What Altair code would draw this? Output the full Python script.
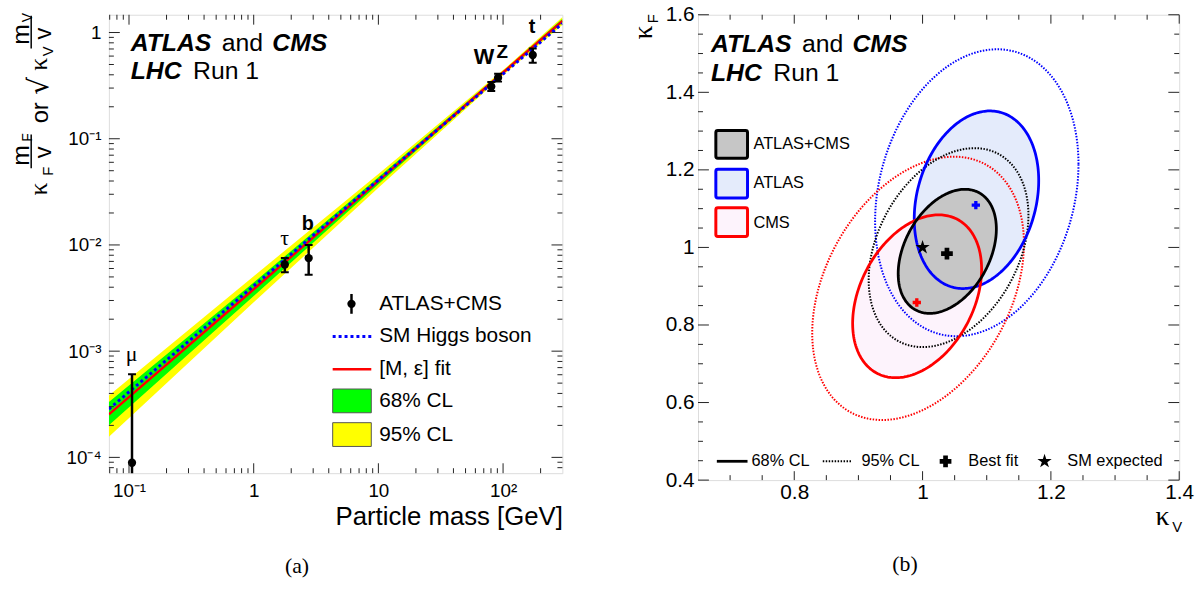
import altair as alt
import numpy as np
import pandas as pd

# ---------------- panel (a): values ----------------
particle = ["μ", "τ", "b", "W", "Z", "t"]
mass = [0.1057, 1.777, 2.76, 80.4, 91.2, 173.0]
coupling = [8.9e-5, 6.55e-3, 7.52e-3, 0.31, 0.376, 0.615]
coupling_lo = [1e-6, 5.52e-3, 5.24e-3, 0.282, 0.345, 0.52]
coupling_hi = [6.06e-4, 7.52e-3, 1.0e-2, 0.342, 0.41, 0.708]

label_x = [0.105, 1.77, 2.71, 70.5, 98.6, 171.0]
label_y = [9.4e-4, 0.0115, 0.0156, 0.583, 0.655, 1.12]

band_mass = [0.069, 1.0, 10.0, 100.0, 300.0]
fit_value = [2.54e-4, 3.83e-3, 0.0401, 0.42, 1.288]
cl68_lo = [2.01e-4, 3.31e-3, 0.0372, 0.408, 1.233]
cl68_hi = [3.33e-4, 4.43e-3, 0.0433, 0.431, 1.346]
cl95_lo = [1.56e-4, 2.88e-3, 0.0345, 0.397, 1.183]
cl95_hi = [3.82e-4, 5.08e-3, 0.0466, 0.443, 1.403]

sm_mass = [0.069, 300.0]
sm_value = [2.85e-4, 1.22]

# ---------------- panel (b): contour parameters ----------------
ell_name = ["comb68", "comb95", "atlas68", "atlas95", "cms68", "cms95"]
ell_cx = [1.0385, 1.0405, 1.084, 1.0845, 0.9915, 0.993]
ell_cy = [0.99, 0.9995, 1.123, 1.141, 0.874, 0.8945]
ell_rx = [0.0765, 0.1245, 0.097, 0.1585, 0.1005, 0.165]
ell_ry = [0.16, 0.2565, 0.229, 0.37, 0.21, 0.3395]
ell_cos = [0.36, 0.325, 0.216, 0.2, 0.333, 0.34]

bestfit_kv = [1.038, 1.083, 0.991]
bestfit_kf = [0.984, 1.109, 0.858]
bestfit_who = ["comb", "atlas", "cms"]
sm_kv = [1.0]
sm_kf = [1.0]

# ---------------- helpers ----------------
SANS = "Liberation Sans"
SERIF = "Liberation Serif"
one = pd.DataFrame({"d": [0]})


def ptext(text, x, y, size, font=SANS, weight="normal", style="normal",
          align="center", baseline="middle", angle=0, color="black"):
    return alt.Chart(one).mark_text(
        text=text, font=font, fontSize=size, fontWeight=weight, fontStyle=style,
        align=align, baseline=baseline, angle=angle, color=color
    ).encode(x=alt.value(x), y=alt.value(y))


def prule(x1, y1, x2, y2, color="black", width=1.0, dash=None):
    kw = dict(color=color, strokeWidth=width)
    if dash is not None:
        kw["strokeDash"] = dash
    return alt.Chart(one).mark_rule(**kw).encode(
        x=alt.value(x1), y=alt.value(y1), x2=alt.value(x2), y2=alt.value(y2))


def prect(x1, y1, x2, y2, fill, stroke, width=1.0, radius=0):
    return alt.Chart(one).mark_rect(fill=fill, stroke=stroke, strokeWidth=width,
                                    cornerRadius=radius).encode(
        x=alt.value(x1), y=alt.value(y1), x2=alt.value(x2), y2=alt.value(y2))


def header(x0, base1, base2):
    return [
        ptext("ATLAS", x0, base1, 25, weight="bold", style="italic", align="left", baseline="alphabetic"),
        ptext("and", x0 + 92, base1, 25, align="left", baseline="alphabetic"),
        ptext("CMS", x0 + 143, base1, 25, weight="bold", style="italic", align="left", baseline="alphabetic"),
        ptext("LHC", x0, base2, 25, weight="bold", style="italic", align="left", baseline="alphabetic"),
        ptext("Run 1", x0 + 63, base2, 25, align="left", baseline="alphabetic"),
    ]


def tick_layers(xenc, yenc, xfield, yfield, xmaj, xmin, ymaj, ymin, W, H,
                lx_maj, lx_min, ly_maj, ly_min):
    layers = []
    for vals, L in ((ymaj, ly_maj), (ymin, ly_min)):
        d = pd.DataFrame({yfield: vals})
        layers.append(alt.Chart(d).mark_rule(color="#222", strokeWidth=1).encode(
            y=yenc, x=alt.value(0), x2=alt.value(L)))
        layers.append(alt.Chart(d).mark_rule(color="#222", strokeWidth=1).encode(
            y=yenc, x=alt.value(W - L), x2=alt.value(W)))
    for vals, L in ((xmaj, lx_maj), (xmin, lx_min)):
        d = pd.DataFrame({xfield: vals})
        layers.append(alt.Chart(d).mark_rule(color="#222", strokeWidth=1).encode(
            x=xenc, y=alt.value(H - L), y2=alt.value(H)))
        layers.append(alt.Chart(d).mark_rule(color="#222", strokeWidth=1).encode(
            x=xenc, y=alt.value(0), y2=alt.value(L)))
    return layers


# =====================================================================
# Panel (a)
# =====================================================================
WA, HA = 458, 463
xdomA = [0.069, 299]
ydomA = [7.1e-5, 1.47]

axis_xa = alt.Axis(
    values=[0.1, 1, 10, 100],
    labelExpr="datum.value < 0.5 ? '10⁻¹' : datum.value < 5 ? '1' : datum.value < 50 ? '10' : '10²'",
    ticks=False, domain=False, grid=False, labelFontSize=19, labelPadding=9,
    labelFont=SANS, labelColor="black", labelFlush=False, labelOverlap=False,
    title="Particle mass [GeV]", titleFont=SANS, titleFontSize=26, titleFontWeight="normal",
    titleAnchor="end", titlePadding=3, titleColor="black")
axis_ya = alt.Axis(
    values=[1e-4, 1e-3, 1e-2, 1e-1, 1],
    labelExpr=("datum.value > 0.5 ? '1' : datum.value > 0.05 ? '10⁻¹' : "
               "datum.value > 0.005 ? '10⁻²' : datum.value > 0.0005 ? '10⁻³' : '10⁻⁴'"),
    ticks=False, domain=False, grid=False, labelFontSize=19, labelPadding=8,
    labelFont=SANS, labelColor="black", labelFlush=False, labelOverlap=False, title=None)

xA = alt.X("m:Q", scale=alt.Scale(type="log", domain=xdomA, nice=False), axis=axis_xa)
yA = alt.Y("v:Q", scale=alt.Scale(type="log", domain=ydomA, nice=False), axis=axis_ya)
y2A = alt.Y2("v2:Q")

band95 = pd.DataFrame({"m": band_mass, "v": cl95_lo, "v2": cl95_hi})
band68 = pd.DataFrame({"m": band_mass, "v": cl68_lo, "v2": cl68_hi})
fit_df = pd.DataFrame({"m": band_mass, "v": fit_value})
sm_df = pd.DataFrame({"m": sm_mass, "v": sm_value})
pts = pd.DataFrame({"m": mass, "v": coupling, "name": particle})
err_df = pd.DataFrame({"m": mass, "v": coupling_lo, "v2": coupling_hi})
caps = pd.DataFrame({"m": mass + mass, "v": coupling_lo + coupling_hi})
labs = pd.DataFrame({"m": label_x, "v": label_y, "name": particle})

layersA = [
    alt.Chart(band95).mark_area(color="#ffff00", opacity=1, clip=True).encode(x=xA, y=yA, y2=y2A),
    alt.Chart(band68).mark_area(color="#00ff00", opacity=1, clip=True).encode(x=xA, y=yA, y2=y2A),
    alt.Chart(fit_df).mark_line(color="#ff0000", strokeWidth=2.5, clip=True).encode(x=xA, y=yA),
    alt.Chart(sm_df).mark_line(color="#0000ff", strokeWidth=3, strokeDash=[3, 3], clip=True).encode(x=xA, y=yA),
    alt.Chart(err_df).mark_rule(color="black", strokeWidth=2.5, clip=True).encode(x=xA, y=yA, y2=y2A),
    alt.Chart(caps).mark_point(shape="stroke", size=64, strokeWidth=2, color="black", opacity=1, clip=True).encode(x=xA, y=yA),
    alt.Chart(pts).mark_circle(size=70, color="black", opacity=1, clip=True).encode(x=xA, y=yA),
    alt.Chart(labs[labs.name.isin(["μ", "τ"])]).mark_text(font=SERIF, fontSize=22, color="black").encode(
        x=xA, y=yA, text="name:N"),
    alt.Chart(labs[labs.name.isin(["b", "t"])]).mark_text(font=SANS, fontSize=20, fontWeight="bold", color="black").encode(
        x=xA, y=yA, text="name:N"),
    alt.Chart(labs[labs.name == "W"]).mark_text(font=SANS, fontSize=22, fontWeight="bold", color="black").encode(
        x=xA, y=yA, text="name:N"),
    alt.Chart(labs[labs.name == "Z"]).mark_text(font=SANS, fontSize=19, fontWeight="bold", color="black").encode(
        x=xA, y=yA, text="name:N"),
]

xmajA = [0.1, 1, 10, 100]
xminA = [k * 10.0 ** e for e in range(-2, 3) for k in range(2, 10) if xdomA[0] < k * 10.0 ** e < xdomA[1]]
ymajA = [1e-4, 1e-3, 1e-2, 1e-1, 1]
yminA = [k * 10.0 ** e for e in range(-5, 1) for k in range(2, 10) if ydomA[0] < k * 10.0 ** e < ydomA[1]]
layersA += tick_layers(xA, yA, "m", "v", xmajA, xminA, ymajA, yminA, WA, HA, 10, 5, 11, 5)

# header text
layersA += header(22, 37, 65)

# legend of panel (a)
layersA += [
    prule(245, 282, 245, 302, width=2.5),
    alt.Chart(one).mark_circle(size=70, color="black", opacity=1).encode(x=alt.value(245), y=alt.value(292)),
    ptext("ATLAS+CMS", 273, 292, 21, align="left"),
    prule(226, 325, 265, 325, color="#0000ff", width=3, dash=[3, 3]),
    ptext("SM Higgs boson", 273, 325, 21, align="left"),
    prule(226, 358, 265, 358, color="#ff0000", width=2.5),
    ptext("[M, ε] fit", 273, 358, 21, align="left"),
    prect(226, 378, 265, 402, "#00ff00", "#555", 1),
    ptext("68% CL", 273, 390, 21, align="left"),
    prect(226, 412, 265, 436, "#ffff00", "#555", 1),
    ptext("95% CL", 273, 424, 21, align="left"),
]

# y-axis title of panel (a), composed piece by piece (rotated)
R = 270
layersA += [
    ptext("κ", -71, 176, 26, font=SERIF, angle=R),
    ptext("F", -61, 158, 15, angle=R),
    ptext("m", -89, 142, 25, angle=R),
    ptext("F", -82, 124, 14, angle=R),
    prule(-78.5, 121, -78.5, 155, width=1.5),
    ptext("v", -65, 139, 24, angle=R),
    ptext("or", -69, 99, 24, angle=R),
    ptext("√", -70, 72, 28, font="DejaVu Sans", angle=R),
    ptext("κ", -71, 50, 26, font=SERIF, angle=R),
    ptext("V", -61, 37, 15, angle=R),
    ptext("m", -89, 20, 25, angle=R),
    ptext("V", -82, 3, 14, angle=R),
    prule(-78.5, 1, -78.5, 34, width=1.5),
    ptext("v", -65, 19, 24, angle=R),
    ptext("(a)", 190, 557, 22, font=SERIF),
]

panelA = alt.layer(*layersA).properties(width=WA, height=HA)

# =====================================================================
# Panel (b)
# =====================================================================
WB, HB = 486, 470
xdomB = [0.65, 1.4]
ydomB = [0.4, 1.6]

axis_xb = alt.Axis(
    values=[0.8, 1.0, 1.2, 1.4],
    labelExpr="datum.value == 1 ? '1' : format(datum.value, '.1f')",
    ticks=False, domain=False, grid=False, labelFontSize=21, labelPadding=2,
    labelFont=SANS, labelColor="black", labelFlush=False, labelOverlap=False, title=None)
axis_yb = alt.Axis(
    values=[0.4, 0.6, 0.8, 1.0, 1.2, 1.4, 1.6],
    labelExpr="datum.value == 1 ? '1' : format(datum.value, '.1f')",
    ticks=False, domain=False, grid=False, labelFontSize=21, labelPadding=4,
    labelFont=SANS, labelColor="black", labelFlush=False, labelOverlap=False, title=None)

xB = alt.X("kv:Q", scale=alt.Scale(domain=xdomB, nice=False, zero=False), axis=axis_xb)
yB = alt.Y("kf:Q", scale=alt.Scale(domain=ydomB, nice=False, zero=False), axis=axis_yb)

tt = np.linspace(0, 2 * np.pi, 241)
rows = []
for n, cx, cy, rx, ry, c in zip(ell_name, ell_cx, ell_cy, ell_rx, ell_ry, ell_cos):
    phi = np.arccos(c)
    for i, t in enumerate(tt):
        rows.append({"name": n, "i": i, "kv": cx + rx * np.cos(t), "kf": cy + ry * np.cos(t - phi)})
ell = pd.DataFrame(rows)


def contour(name):
    return ell[ell.name == name]


ordB = alt.Order("i:Q")
layersB = [
    alt.Chart(contour("atlas68")).mark_line(fill="#e4ebfb", stroke="#e4ebfb", strokeWidth=0.5).encode(x=xB, y=yB, order=ordB),
    alt.Chart(contour("cms68")).mark_line(fill="#fdf3fc", stroke="#fdf3fc", strokeWidth=0.5).encode(x=xB, y=yB, order=ordB),
    alt.Chart(contour("comb68")).mark_line(fill="#c6c6c6", stroke="#c6c6c6", strokeWidth=0.5).encode(x=xB, y=yB, order=ordB),
    alt.Chart(contour("atlas95")).mark_line(color="#0000ff", strokeWidth=2, strokeDash=[1.5, 1.5]).encode(x=xB, y=yB, order=ordB),
    alt.Chart(contour("cms95")).mark_line(color="#ff0000", strokeWidth=2, strokeDash=[1.5, 1.5]).encode(x=xB, y=yB, order=ordB),
    alt.Chart(contour("comb95")).mark_line(color="black", strokeWidth=2, strokeDash=[1.5, 1.5]).encode(x=xB, y=yB, order=ordB),
    alt.Chart(contour("atlas68")).mark_line(color="#0000ff", strokeWidth=2.8).encode(x=xB, y=yB, order=ordB),
    alt.Chart(contour("cms68")).mark_line(color="#ff0000", strokeWidth=2.8).encode(x=xB, y=yB, order=ordB),
    alt.Chart(contour("comb68")).mark_line(color="black", strokeWidth=2.8).encode(x=xB, y=yB, order=ordB),
]

bf = pd.DataFrame({"kv": bestfit_kv, "kf": bestfit_kf, "who": bestfit_who})
STAR = "M0,-1L0.2245,-0.309L0.951,-0.309L0.363,0.118L0.588,0.809L0,0.382L-0.588,0.809L-0.363,0.118L-0.951,-0.309L-0.2245,-0.309Z"
layersB += [
    alt.Chart(bf[bf.who == "atlas"]).mark_point(shape="cross", filled=True, size=70, color="#0000ff", opacity=1).encode(x=xB, y=yB),
    alt.Chart(bf[bf.who == "cms"]).mark_point(shape="cross", filled=True, size=70, color="#ff0000", opacity=1).encode(x=xB, y=yB),
    alt.Chart(bf[bf.who == "comb"]).mark_point(shape="cross", filled=True, size=140, color="black", opacity=1).encode(x=xB, y=yB),
    alt.Chart(pd.DataFrame({"kv": sm_kv, "kf": sm_kf})).mark_point(shape=STAR, filled=True, size=230, color="black", opacity=1).encode(x=xB, y=yB),
]

xmajB = [0.8, 1.0, 1.2, 1.4]
xminB = [0.7, 0.75, 0.85, 0.9, 0.95, 1.05, 1.1, 1.15, 1.25, 1.3, 1.35]
ymajB = [0.4, 0.6, 0.8, 1.0, 1.2, 1.4, 1.6]
yminB = [0.45, 0.5, 0.55, 0.65, 0.7, 0.75, 0.85, 0.9, 0.95, 1.05, 1.1, 1.15,
         1.25, 1.3, 1.35, 1.45, 1.5, 1.55]
layersB += tick_layers(xB, yB, "kv", "kf", xmajB, xminB, ymajB, yminB, WB, HB, 9, 5, 11, 5)

layersB += header(13, 38, 67)

# legend (top-left)
layersB += [
    prect(18, 117, 50, 145, "#c6c6c6", "black", 3, 2),
    ptext("ATLAS+CMS", 56, 131, 16.5, align="left"),
    prect(18, 156, 50, 185, "#e4ebfb", "#0000ff", 3, 2),
    ptext("ATLAS", 56, 170, 16.5, align="left"),
    prect(18, 195, 50, 224, "#fdf3fc", "#ff0000", 3, 2),
    ptext("CMS", 56, 210, 16.5, align="left"),
]
# legend (bottom row)
layersB += [
    prule(19, 451, 50, 451, width=2.8),
    ptext("68% CL", 54, 451, 16.5, align="left"),
    prule(126, 451, 156, 451, width=2, dash=[1.5, 1.5]),
    ptext("95% CL", 165, 451, 16.5, align="left"),
    alt.Chart(one).mark_point(shape="cross", filled=True, size=140, color="black", opacity=1).encode(
        x=alt.value(250), y=alt.value(451)),
    ptext("Best fit", 273, 451, 16.5, align="left"),
    alt.Chart(one).mark_point(shape=STAR, filled=True, size=230, color="black", opacity=1).encode(
        x=alt.value(350), y=alt.value(451)),
    ptext("SM expected", 373, 451, 16.5, align="left"),
]
# axis titles and caption
layersB += [
    ptext("κ", 469, 507, 28, font=SERIF),
    ptext("V", 484, 517, 15),
    ptext("κ", -54, 18, 28, font=SERIF, angle=270),
    ptext("F", -45, 4, 15, angle=270),
    ptext("(b)", 209, 555, 22, font=SERIF),
]

panelB = alt.layer(*layersB).properties(width=WB, height=HB)

chart = alt.hconcat(panelA, panelB, spacing=67).properties(
    padding={"left": 8, "top": 0, "right": 5, "bottom": 0},
    background="white",
).configure_view(stroke="#222", strokeWidth=1).configure(font=SANS)

chart.save("out.html", embed_options={"renderer": "svg", "actions": False})
